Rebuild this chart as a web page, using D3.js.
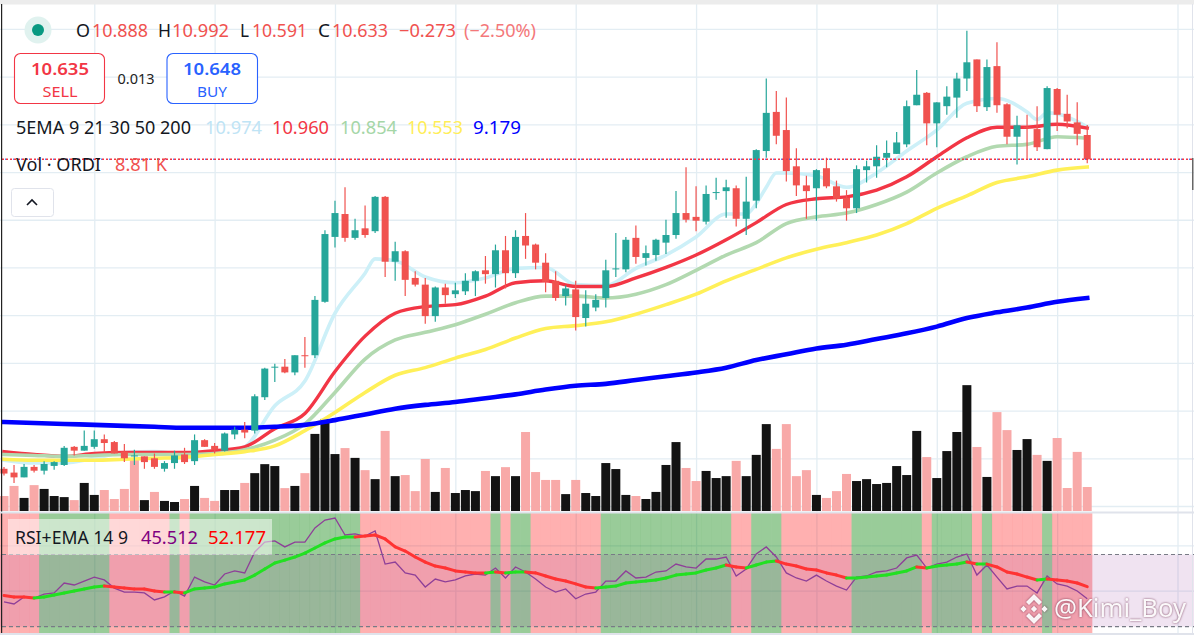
<!DOCTYPE html>
<html>
<head>
<meta charset="utf-8">
<title>ORDI</title>
<script src="https://cdn.jsdelivr.net/npm/d3@7"></script>
<style>
  html, body { margin: 0; padding: 0; background: #fff; overflow: hidden; }
  svg { display: block; }
  text { font-family: "Noto Sans", sans-serif; }
  .grid .domain { display: none; }
  .grid line { stroke: #e3edf3; stroke-width: 1.3; }
  .mark { filter: drop-shadow(0 0.5px 1.2px rgba(90,20,50,0.75)); }
</style>
</head>
<body>
<div id="chart"></div>
<script>
// candles
var open = [7.39,7.35,7.30,7.41,7.37,7.42,7.43,7.62,7.58,7.62,
  7.70,7.67,7.57,7.52,7.52,7.50,7.39,7.45,7.54,7.47,
  7.69,7.63,7.58,7.75,7.80,7.79,8.14,8.45,8.46,8.40,
  8.58,8.58,9.14,9.82,10.06,9.81,9.91,9.88,10.24,9.56,
  9.67,9.39,9.32,8.99,9.29,9.22,9.25,9.36,9.47,9.43,
  9.68,9.44,9.83,9.74,9.55,9.36,9.20,9.27,8.97,9.08,
  9.18,9.48,9.48,9.81,9.60,9.63,9.76,9.84,10.07,10.03,
  9.98,10.28,10.30,10.33,10.01,10.20,10.72,11.13,10.94,10.56,
  10.36,10.33,10.54,10.35,10.23,10.12,10.52,10.56,10.65,10.69,
  10.79,11.20,11.33,11.01,11.19,11.28,11.48,11.68,11.18,11.61,
  11.21,10.87,10.97,10.95,10.74,11.37,11.11,11.02,10.888];
var high = [7.41,7.43,7.44,7.43,7.47,7.47,7.63,7.63,7.79,7.79,
  7.75,7.68,7.65,7.59,7.52,7.55,7.47,7.58,7.61,7.75,
  7.70,7.66,7.77,7.83,7.88,8.17,8.45,8.49,8.54,8.58,
  8.77,9.20,9.89,10.20,10.34,10.01,10.15,10.25,10.25,9.77,
  9.68,9.46,9.39,9.30,9.33,9.34,9.44,9.47,9.62,9.74,
  9.83,9.89,10.07,9.75,9.65,9.46,9.31,9.36,9.26,9.22,
  9.58,9.86,9.82,9.94,9.73,9.80,10.00,10.30,10.55,10.35,
  10.36,10.44,10.42,10.36,10.45,10.74,11.48,11.35,11.28,10.75,
  10.46,10.53,10.65,10.41,10.31,10.57,10.62,10.78,10.83,10.92,
  11.25,11.57,11.34,11.23,11.40,11.54,11.98,11.68,11.68,11.86,
  11.22,11.09,11.10,11.19,11.40,11.38,11.31,11.23,10.992];
var low = [7.32,7.24,7.30,7.35,7.33,7.38,7.42,7.53,7.58,7.60,
  7.56,7.55,7.46,7.43,7.39,7.39,7.36,7.39,7.44,7.43,
  7.62,7.55,7.57,7.70,7.71,7.76,8.11,8.30,8.39,8.37,
  8.45,8.55,9.13,9.71,9.77,9.79,9.81,9.86,9.40,9.36,
  9.20,9.30,8.91,8.93,9.12,9.18,9.21,9.20,9.33,9.29,
  9.28,9.39,9.59,9.48,9.24,9.15,9.10,8.84,8.88,9.04,
  9.08,9.40,9.45,9.54,9.52,9.57,9.64,9.80,9.97,9.88,
  9.95,10.21,10.02,9.93,9.84,10.12,10.65,10.79,10.40,10.25,
  10.01,9.99,10.33,10.19,9.99,10.07,10.39,10.44,10.55,10.69,
  10.76,11.20,10.78,10.76,11.10,11.07,11.35,11.13,11.14,11.12,
  10.79,10.58,10.64,10.72,10.74,10.93,10.96,10.78,10.591];
var close = [7.34,7.30,7.41,7.37,7.44,7.46,7.61,7.58,7.63,7.70,
  7.66,7.55,7.50,7.53,7.46,7.41,7.45,7.53,7.46,7.69,
  7.62,7.59,7.76,7.80,7.77,8.15,8.44,8.46,8.40,8.58,
  8.57,9.16,9.85,10.07,9.81,9.89,9.84,10.24,9.56,9.67,
  9.37,9.32,8.99,9.29,9.21,9.26,9.36,9.46,9.43,9.68,
  9.44,9.82,9.73,9.55,9.35,9.18,9.28,8.98,9.12,9.16,
  9.47,9.49,9.79,9.61,9.65,9.79,9.84,10.07,10.00,9.99,
  10.27,10.29,10.34,10.01,10.19,10.73,11.12,10.88,10.51,10.36,
  10.30,10.52,10.35,10.22,10.12,10.53,10.56,10.66,10.70,10.81,
  11.19,11.31,11.01,11.23,11.29,11.48,11.65,11.19,11.60,11.20,
  10.87,10.99,10.96,10.76,11.38,11.10,11.03,10.90,10.633];

// volume in thousands
var volume = [5.5,9.2,4.8,9.5,8.1,5.5,5.1,4.0,10.3,5.9,
  7.7,4.4,8.1,18.7,4.0,7.0,3.7,3.3,4.4,9.2,
  4.8,3.7,7.7,7.7,10.3,13.9,17.2,16.5,8.4,9.2,
  13.9,28.3,33.8,20.9,23.1,19.5,15.0,11.7,29.4,12.8,
  13.2,7.3,19.1,7.0,15.8,6.6,7.7,7.3,14.7,12.8,
  16.1,12.8,29.0,14.3,11.4,11.4,6.2,11.4,6.6,5.5,
  17.6,15.4,5.9,5.5,4.4,7.0,16.9,25.3,15.8,11.0,
  14.7,12.1,12.8,18.4,12.8,20.6,31.9,22.8,31.9,12.8,
  15.0,5.9,4.8,7.3,13.6,11.0,11.7,9.9,10.3,16.5,
  13.2,29.4,19.8,12.1,22.0,29.0,46.2,23.5,12.5,36.3,
  29.7,22.4,26.4,20.6,18.4,26.8,8.44,21.7,8.81];
// candles whose volume bar is black, the others are pink
var volumeUp = [2,4,5,6,8,9,14,16,17,19,22,23,25,26,27,29,31,32,33,35,37,39,
  43,45,46,47,49,51,56,58,59,60,61,62,64,65,66,67,70,71,72,74,75,76,
  81,85,86,87,88,89,90,91,93,94,95,96,98,101,102,104];

// EMAs, read every third candle
var emaIdx = [0,3,6,9,12,15,18,21,24,27,30,33,36,39,42,45,48,51,54,57,60,63,66,69,72,
  75,78,81,84,87,90,93,96,99,102,105,108];
var ema21 = [7.57,7.54,7.52,7.55,7.56,7.56,7.56,7.58,7.62,7.81,7.97,8.41,8.78,9.02,9.09,9.11,9.20,9.34,9.36,
  9.30,9.30,9.39,9.50,9.63,9.79,9.97,10.16,10.22,10.24,10.31,10.45,10.66,10.86,10.97,10.97,11.00,10.96];
var ema30 = [7.54,7.53,7.52,7.53,7.54,7.54,7.54,7.55,7.59,7.69,7.86,8.19,8.54,8.74,8.82,8.90,9.01,9.13,9.20,
  9.20,9.18,9.22,9.32,9.47,9.63,9.76,9.96,10.03,10.07,10.16,10.29,10.49,10.66,10.77,10.79,10.87,10.854];
var ema50 = [7.49,7.48,7.48,7.48,7.49,7.50,7.51,7.54,7.57,7.63,7.79,7.98,8.19,8.37,8.45,8.55,8.64,8.76,8.86,
  8.89,8.93,9.01,9.11,9.22,9.36,9.48,9.60,9.69,9.76,9.84,9.96,10.12,10.25,10.39,10.45,10.52,10.553];
var ema200 = [7.88,7.87,7.86,7.85,7.84,7.83,7.82,7.82,7.82,7.83,7.85,7.90,7.96,8.02,8.06,8.09,8.13,8.17,8.22,
  8.26,8.28,8.32,8.36,8.40,8.45,8.53,8.59,8.65,8.69,8.75,8.81,8.88,8.97,9.03,9.08,9.14,9.179];
// EMA 9 turns sharper, so it has a few more points
var ema9Idx = [0,3,6,9,12,15,18,21,24,27,30,33,36,37,39,42,45,48,51,54,57,60,63,66,69,72,74,75,76,77,78,
  81,84,87,90,93,96,99,102,103,104,105,108];
var ema9 = [7.48,7.45,7.45,7.50,7.56,7.57,7.54,7.54,7.62,8.05,8.31,9.02,9.44,9.59,9.57,9.40,9.34,9.39,9.49,9.50,
  9.32,9.31,9.49,9.63,9.82,10.06,10.06,10.17,10.34,10.49,10.49,10.46,10.34,10.49,10.72,10.94,11.22,11.27,
  11.13,11.05,11.12,11.11,10.974];

var rsi = [43.7,42.6,46.5,45.9,48.1,48.7,54.2,53.1,55.3,57.5,
  55.9,51.4,49.2,49.2,48.7,44.8,46.5,49.8,47.0,57.5,
  54.8,53.1,59.2,60.9,59.8,71.4,76.9,77.5,74.2,76.9,
  76.9,84.7,89.1,90.2,80.8,81.4,80.2,83.0,64.7,65.8,
  59.8,58.6,52.0,56.4,54.8,55.9,58.1,59.2,58.6,62.5,
  57.0,63.1,60.3,56.4,52.0,49.2,50.9,45.5,48.1,49.2,
  55.3,55.3,60.9,57.0,57.5,60.3,60.9,64.7,63.1,62.5,
  67.5,67.5,68.6,58.1,62.0,70.3,74.2,68.6,59.8,57.0,
  55.3,58.6,55.3,52.5,50.3,57.5,58.1,60.3,60.9,62.5,
  68.1,69.7,62.5,64.7,65.8,68.6,70.3,58.6,64.2,57.5,
  50.9,52.5,52.5,48.7,58.1,53.7,52.5,49.8,45.512];
var rsiEma = [47.3,46.5,46.5,45.9,46.5,47.6,48.7,49.8,50.9,52.0,
  52.5,52.0,51.4,50.9,50.9,49.8,49.2,49.2,48.7,50.9,
  51.4,52.0,53.7,54.8,55.9,58.6,62.0,65.3,66.9,68.6,
  70.8,73.6,76.4,78.6,79.7,79.7,80.2,80.8,78.6,74.2,
  71.9,68.6,65.8,63.6,62.5,60.9,60.3,59.8,59.8,60.3,
  59.8,60.3,60.3,59.8,58.1,56.4,55.3,53.7,52.0,51.4,
  52.0,52.5,54.2,54.8,55.3,55.9,57.0,58.6,59.2,59.8,
  61.4,62.5,64.2,63.1,62.5,64.2,65.8,66.4,64.7,63.6,
  62.0,61.4,59.8,58.6,57.0,57.0,57.5,58.1,58.6,59.8,
  60.9,63.1,62.5,63.6,64.2,64.7,65.8,64.7,64.7,63.1,
  60.3,59.2,57.5,55.9,56.4,55.9,55.3,54.2,52.177];
// candle runs where the RSI EMA rises (green), everything else is red
var greenRuns = [[4,10],[17,17],[19,35],[49,49],[51,52],[60,72],[75,77],[85,91],[93,96],[98,98],[104,104]];

var priceTicks = [7,7.5,8,8.5,9,9.5,10,10.5,11,11.5,12];
var rsiTicks = [25,50,75];
var timeTicks = [9,21,33,45,57,69,81,93,105,117];
var sellPrice = 10.635, buyPrice = 10.648, lastClose = 10.633;

var colors = { up: "#26a69a", down: "#f0524f", volUp: "#131313", volDown: "#f8a9a8",
  ema9: "#cdf0f8", ema21: "#f23645", ema30: "#b2d9b0", ema50: "#fff059", ema200: "#0000ff" };

var width = 1194, height = 635;
var svg = d3.select("#chart").append("svg").attr("width", width).attr("height", height);

var x = d3.scaleLinear().domain([0, 117]).range([4, 1177.5]);
var y = d3.scaleLinear().domain([7, 12]).range([506, 28.9]);
var yVol = d3.scaleLinear().domain([0, 50]).range([511, 374.8]);
var yRsi = d3.scaleLinear().domain([30, 70]).range([626.7, 554.5]);

var step = x(1) - x(0);

// grid
svg.append("g").attr("class", "grid")
  .attr("transform", "translate(" + width + ",0)")
  .call(d3.axisLeft(y).tickValues(priceTicks).tickSize(width).tickFormat(""));
svg.append("g").attr("class", "grid")
  .attr("transform", "translate(" + width + ",0)")
  .call(d3.axisLeft(yRsi).tickValues(rsiTicks).tickSize(width).tickFormat(""));
svg.append("g").attr("class", "grid")
  .attr("transform", "translate(0,633)")
  .call(d3.axisTop(x).tickValues(timeTicks).tickSize(633).tickFormat(""));

// volume
var upSet = new Set(volumeUp);
svg.append("g").selectAll("rect").data(volume).enter().append("rect")
  .attr("x", (d, i) => x(i) - 4.5)
  .attr("width", 9)
  .attr("y", d => yVol(d))
  .attr("height", d => yVol(0) - yVol(d))
  .attr("fill", (d, i) => upSet.has(i) ? colors.volUp : colors.volDown);

// EMA lines
function emaLine(values, idx, color, w) {
  var line = d3.line().x((d, i) => x(idx[i])).y(d => y(d)).curve(d3.curveMonotoneX);
  svg.append("path").attr("d", line(values))
    .attr("fill", "none").attr("stroke", color).attr("stroke-width", w)
    .attr("stroke-linejoin", "round").attr("stroke-linecap", "square");
}
emaLine(ema9, ema9Idx, colors.ema9, 3.6);
emaLine(ema21, emaIdx, colors.ema21, 3.4);
emaLine(ema30, emaIdx, colors.ema30, 3.6);
emaLine(ema50, emaIdx, colors.ema50, 3.6);
emaLine(ema200, emaIdx, colors.ema200, 4.6);

// candles
var candles = svg.append("g").selectAll("g").data(open).enter().append("g")
  .attr("fill", (d, i) => close[i] >= d ? colors.up : colors.down)
  .attr("stroke", (d, i) => close[i] >= d ? colors.up : colors.down);
candles.append("line")
  .attr("x1", (d, i) => x(i)).attr("x2", (d, i) => x(i))
  .attr("y1", (d, i) => y(high[i])).attr("y2", (d, i) => y(low[i]))
  .attr("stroke-width", 1.2);
candles.append("rect")
  .attr("x", (d, i) => x(i) - 3.5).attr("width", 7)
  .attr("y", (d, i) => y(Math.max(d, close[i])))
  .attr("height", (d, i) => Math.max(1, Math.abs(y(d) - y(close[i]))))
  .attr("stroke", "none");

// sell and buy price line
svg.append("line").attr("x1", 2).attr("x2", width)
  .attr("y1", y(lastClose)).attr("y2", y(lastClose))
  .attr("stroke", "#f23645").attr("stroke-width", 1.5).attr("stroke-dasharray", "2 2");
svg.append("line").attr("x1", 2).attr("x2", width)
  .attr("y1", y(lastClose)).attr("y2", y(lastClose))
  .attr("stroke", "#2962ff").attr("stroke-width", 1.5).attr("stroke-dasharray", "1 7").attr("stroke-dashoffset", 5)
  .attr("opacity", 0.8);

// RSI pane
var rsiTop = 513, rsiBottom = 633;
var green = new Array(open.length).fill(false);
greenRuns.forEach(r => { for (var i = r[0]; i <= r[1]; i++) green[i] = true; });

svg.append("g").selectAll("rect").data(open).enter().append("rect")
  .attr("x", (d, i) => x(i) - step / 2).attr("width", step + 0.1)
  .attr("y", rsiTop).attr("height", rsiBottom - rsiTop)
  .attr("fill", (d, i) => green[i] ? "rgba(0,128,0,0.4)" : "rgba(255,0,0,0.31)");

svg.append("rect").attr("x", 0).attr("width", width)
  .attr("y", yRsi(70)).attr("height", yRsi(30) - yRsi(70))
  .attr("fill", "rgba(155,68,162,0.15)");
[30, 70].forEach(function(v) {
  svg.append("line").attr("x1", 2).attr("x2", width)
    .attr("y1", yRsi(v)).attr("y2", yRsi(v))
    .attr("stroke", "#787b86").attr("stroke-width", 1.2).attr("stroke-dasharray", "4 3");
});

var rsiLine = d3.line().x((d, i) => x(i)).y(d => yRsi(d));
svg.append("path").attr("d", rsiLine(rsi))
  .attr("fill", "none").attr("stroke", "#8e3f98").attr("stroke-width", 1.3);

rsiEma.forEach(function(v, i) {
  if (i === 0) return;
  svg.append("line")
    .attr("x1", x(i - 1)).attr("y1", yRsi(rsiEma[i - 1]))
    .attr("x2", x(i)).attr("y2", yRsi(v))
    .attr("stroke", green[i] ? "#22e022" : "#ff3333").attr("stroke-width", 3)
    .attr("stroke-linecap", "round");
});

// frame
svg.append("rect").attr("x", 0).attr("y", 0).attr("width", width).attr("height", 4.5).attr("fill", "#ececec");
svg.append("rect").attr("x", 1).attr("y", 4).attr("width", 1.2).attr("height", height).attr("fill", "#222");
svg.append("rect").attr("x", 0).attr("y", 511.5).attr("width", width).attr("height", 2).attr("fill", "#e0e3eb");
svg.append("rect").attr("x", 0).attr("y", 633).attr("width", width).attr("height", 2).attr("fill", "#e0e3eb");
svg.append("rect").attr("x", 1192).attr("y", 4).attr("width", 1).attr("height", height).attr("fill", "#e0e3eb");
svg.append("rect").attr("x", 1192).attr("y", 158).attr("width", 1.5).attr("height", 32).attr("fill", "#666");

// texts
function label(text, px, py, color, size, w, anchor) {
  var t = svg.append("text").attr("x", px).attr("y", py).attr("fill", color)
    .attr("font-size", size).attr("text-anchor", anchor || "start").text(text);
  if (w) t.attr("textLength", w).attr("lengthAdjust", "spacingAndGlyphs");
  return t;
}

var dark = "#131722", red = "#f0524f";
svg.append("circle").attr("cx", 38).attr("cy", 30).attr("r", 13.5).attr("fill", "#e0f2ef");
svg.append("circle").attr("cx", 38).attr("cy", 30).attr("r", 6).attr("fill", "#089981");

label("O", 76, 37, dark, 18, 14);
label("10.888", 92, 37, red, 18, 56);
label("H", 158, 37, dark, 18, 13);
label("10.992", 172, 37, red, 18, 57);
label("L", 240, 37, dark, 18, 9);
label("10.591", 252, 37, red, 18, 55);
label("C", 318, 37, dark, 18, 12);
label("10.633", 332, 37, red, 18, 56);
label("\u22120.273", 399, 37, red, 18, 57);
label("(\u22122.50%)", 464, 37, "#f4787a", 18, 72);

svg.append("rect").attr("x", 14.5).attr("y", 53.5).attr("width", 90).attr("height", 50).attr("rx", 6)
  .attr("fill", "#fff").attr("stroke", "#f23645").attr("stroke-width", 1.1);
svg.append("rect").attr("x", 167).attr("y", 53.5).attr("width", 90.5).attr("height", 50).attr("rx", 6)
  .attr("fill", "#fff").attr("stroke", "#2962ff").attr("stroke-width", 1.1);
label("10.635", 60, 75, "#f23645", 16, 58, "middle").attr("font-weight", 600);
label("SELL", 60, 97, "#f23645", 15, 35, "middle");
label("10.648", 212, 75, "#2962ff", 16, 58, "middle").attr("font-weight", 600);
label("BUY", 212, 97, "#2962ff", 15, 30, "middle");
label("0.013", 136, 84, "#222", 14, 37, "middle").attr("font-family", "Liberation Serif");

label("5EMA 9 21 30 50 200", 16, 134, dark, 18, 175);
label("10.974", 205, 134, "#bfe4f5", 18, 57);
label("10.960", 272, 134, "#f23645", 18, 57);
label("10.854", 340, 134, "#a5d6a7", 18, 57);
label("10.553", 407, 134, "#ffee58", 18, 56);
label("9.179", 473, 134, "#0000ff", 18, 48);

label("Vol \u00b7 ORDI", 16, 171, dark, 18, 85);
label("8.81 K", 115, 171, red, 18, 52);

svg.append("rect").attr("x", 11.5).attr("y", 188.5).attr("width", 42).attr("height", 28).attr("rx", 3)
  .attr("fill", "#fff").attr("stroke", "#e0e3eb");
svg.append("path").attr("d", d3.line()([[27, 205], [32, 200], [37, 205]]))
  .attr("fill", "none").attr("stroke", "#131722").attr("stroke-width", 1.6);

// RSI legend goes over the lines
svg.append("rect").attr("x", 8).attr("y", 519).attr("width", 264).attr("height", 36).attr("fill", "rgba(255,255,255,0.5)");
label("RSI+EMA 14 9", 15, 544, dark, 18, 113);
label("45.512", 141, 544, "#800080", 18, 57);
label("52.177", 208, 544, "#ff0000", 18, 58);

// watermark
var mark = svg.append("g").attr("class", "mark").attr("transform", "translate(1034,609)")
  .attr("fill", "rgba(255,255,255,0.95)");
mark.append("path").attr("d", "M0,-15 L8,-7 L5,-4 L0,-9 L-5,-4 L-8,-7 Z");
mark.append("path").attr("d", "M0,15 L8,7 L5,4 L0,9 L-5,4 L-8,7 Z");
mark.append("path").attr("d", "M0,-3.2 L3.2,0 L0,3.2 L-3.2,0 Z");
mark.append("path").attr("d", "M-10.5,-3.2 L-7.3,0 L-10.5,3.2 L-13.7,0 Z");
mark.append("path").attr("d", "M10.5,-3.2 L13.7,0 L10.5,3.2 L7.3,0 Z");
label("@Kimi_Boy", 1054, 617, "rgba(255,255,255,0.95)", 26, 132).attr("class", "mark");
</script>
</body>
</html>
